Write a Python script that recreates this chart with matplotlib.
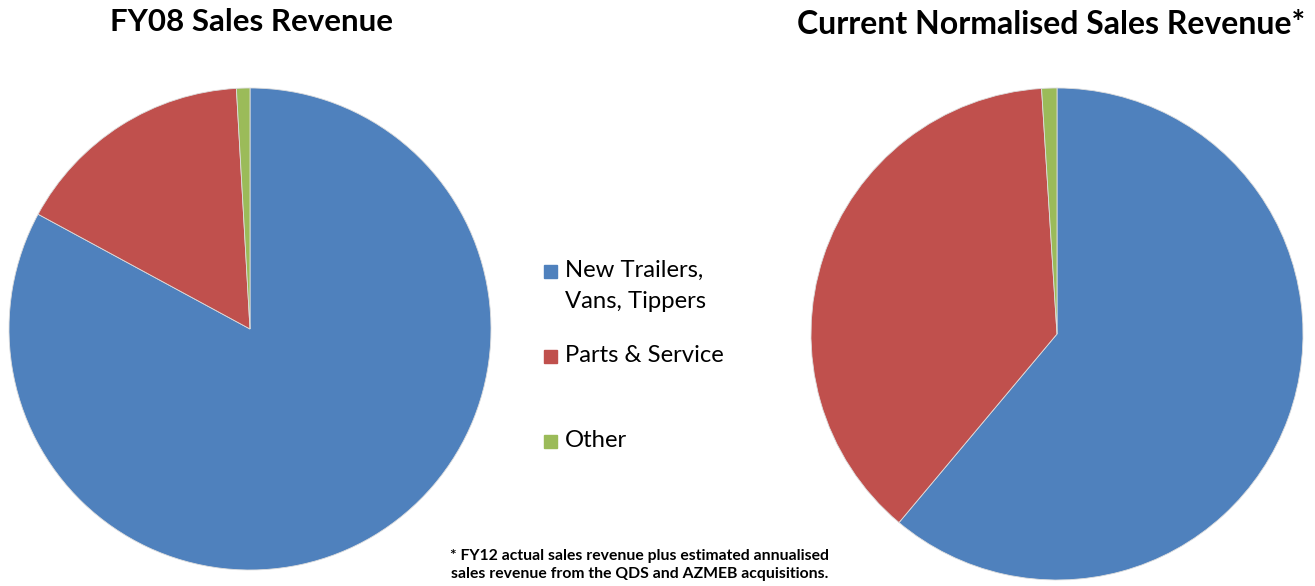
#!/usr/bin/env python3
from matplotlib import pyplot as plt
from matplotlib.patches import Rectangle

categories = ['New Trailers,\nVans, Tippers', 'Parts & Service', 'Other']
fy08_share = [82.9, 16.2, 0.9]
current_share = [61.1, 37.9, 1.0]
colors = ['#4F81BD', '#C0504D', '#9BBB59']

W, H = 1315, 586
plt.rcParams['font.family'] = ['Lato', 'DejaVu Sans']


def pie_axes(fig, cx, cy, r):
    # cx, cy, r in pixels, y from top
    ax = fig.add_axes([(cx - r) / W, (H - cy - r) / H, 2 * r / W, 2 * r / H])
    ax.set_xlim(-1, 1)
    ax.set_ylim(-1, 1)
    ax.axis('off')
    return ax


def draw_pie(ax, values):
    ax.pie(values, colors=colors, startangle=90, counterclock=False,
           radius=1, center=(0, 0), frame=False,
           wedgeprops=dict(edgecolor='#dddddd', linewidth=0.6))
    ax.set_xlim(-1, 1)
    ax.set_ylim(-1, 1)


fig = plt.figure(figsize=(W / 100, H / 100), dpi=100)

ax1 = pie_axes(fig, 250, 329, 241)
draw_pie(ax1, fy08_share)
ax2 = pie_axes(fig, 1057, 334, 246)
draw_pie(ax2, current_share)

fig.text(252 / W, 1 - 22 / H, 'FY08 Sales Revenue', ha='center', va='center',
         fontsize=22.5, fontweight='bold')
fig.text(1051 / W, 1 - 25 / H, 'Current Normalised Sales Revenue*',
         ha='center', va='center', fontsize=23, fontweight='bold')

# legend, placed by hand to keep the uneven spacing
leg_y = [272, 357, 442]
for lab, col, y in zip(categories, colors, leg_y):
    fig.patches.append(Rectangle((544 / W, 1 - (y + 6) / H), 13 / W, 13 / H,
                                 transform=fig.transFigure, color=col))
    fig.text(565 / W, 1 - (y - 12) / H, lab, ha='left', va='top',
             fontsize=17.2, linespacing=1.6)

fig.text(640 / W, 1 - 565 / H,
         '* FY12 actual sales revenue plus estimated annualised\n'
         'sales revenue from the QDS and AZMEB acquisitions.',
         ha='center', va='center', fontsize=11.3, fontweight='bold',
         linespacing=1.3)

fig.savefig('out.png', dpi=100)
